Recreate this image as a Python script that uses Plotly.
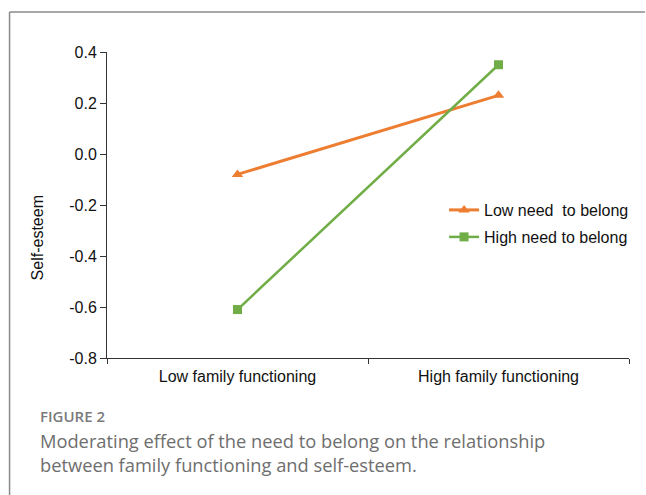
import plotly.graph_objects as go

# Data
categories = ["Low family functioning", "High family functioning"]
low_need = [-0.08, 0.23]
high_need = [-0.61, 0.35]
series_names = ["Low need  to belong", "High need to belong"]
y_ticks = [0.4, 0.2, 0.0, -0.2, -0.4, -0.6, -0.8]

W, H = 646, 495
# plot area in pixels
L, R, T, B = 107, 632, 52, 358


def px_x(p):
    return (p - L) / (R - L)


def px_y(p):
    return (B - p) / (B - T)


ORANGE = "#ED7D31"
GREEN = "#70AD47"
FONT = "Liberation Sans, Arial, sans-serif"
TXT = "#111"

fig = go.Figure()
fig.add_trace(go.Scatter(
    x=categories, y=low_need, name=series_names[0], mode="lines+markers",
    line=dict(color=ORANGE, width=3),
    marker=dict(symbol="triangle-up", size=10, color=ORANGE),
    legend="legend",
))
fig.add_trace(go.Scatter(
    x=categories, y=high_need, name=series_names[1], mode="lines+markers",
    line=dict(color=GREEN, width=2.5),
    marker=dict(symbol="square", size=9, color=GREEN),
    legend="legend2",
))

legend_style = dict(
    xanchor="left", yanchor="top",
    font=dict(family=FONT, size=16, color=TXT),
    bgcolor="rgba(0,0,0,0)", itemwidth=30,
)

fig.update_layout(
    width=W, height=H,
    margin=dict(l=L, r=W - R, t=T, b=H - B),
    paper_bgcolor="white", plot_bgcolor="white",
    font=dict(family=FONT, size=15, color=TXT),
    showlegend=True,
    legend=dict(x=px_x(446), y=px_y(193), **legend_style),
    legend2=dict(x=px_x(446), y=px_y(220), **legend_style),
    xaxis=dict(
        type="category", range=[-0.5, 1.5], tickson="boundaries",
        ticks="outside", ticklen=5, tickcolor="#333",
        showline=True, linecolor="#333", linewidth=1,
        showgrid=False, zeroline=False, ticklabelstandoff=4,
        tickfont=dict(family=FONT, size=16, color=TXT),
    ),
    yaxis=dict(
        range=[-0.8, 0.4], tickvals=y_ticks,
        ticktext=[f"{v:.1f}" for v in y_ticks],
        ticks="outside", ticklen=6, tickcolor="#333",
        showline=True, linecolor="#333", linewidth=1,
        showgrid=False, zeroline=False,
        tickfont=dict(family=FONT, size=16, color=TXT),
    ),
)

# outer frame (top and left edges)
frame = dict(type="line", xref="paper", yref="paper",
             line=dict(color="#8a8a8a", width=1.5))
fig.add_shape(**frame, x0=px_x(9), x1=px_x(W + 2), y0=px_y(12), y1=px_y(12))
fig.add_shape(**frame, x0=px_x(9), x1=px_x(9), y0=px_y(12), y1=px_y(H + 2))

# axis title
fig.add_annotation(
    text="Self-esteem", xref="paper", yref="paper",
    x=px_x(37), y=px_y(238), textangle=-90, showarrow=False,
    xanchor="center", yanchor="middle",
    font=dict(family=FONT, size=16, color=TXT),
)

# caption
CAP_FONT = "Open Sans, Lato, sans-serif"
fig.add_annotation(
    text="FIGURE 2", xref="paper", yref="paper",
    x=px_x(38), y=px_y(416), xanchor="left", yanchor="middle",
    showarrow=False,
    font=dict(family=CAP_FONT, size=15, color="#7a7a7a", weight=600),
)
fig.add_annotation(
    text="Moderating effect of the need to belong on the relationship",
    xref="paper", yref="paper",
    x=px_x(38), y=px_y(440), xanchor="left", yanchor="middle",
    showarrow=False, font=dict(family=CAP_FONT, size=18.3, color="#6e6e6e"),
)
fig.add_annotation(
    text="between family functioning and self-esteem.",
    xref="paper", yref="paper",
    x=px_x(38), y=px_y(464), xanchor="left", yanchor="middle",
    showarrow=False, font=dict(family=CAP_FONT, size=18.3, color="#6e6e6e"),
)

fig.write_html("out.html")
